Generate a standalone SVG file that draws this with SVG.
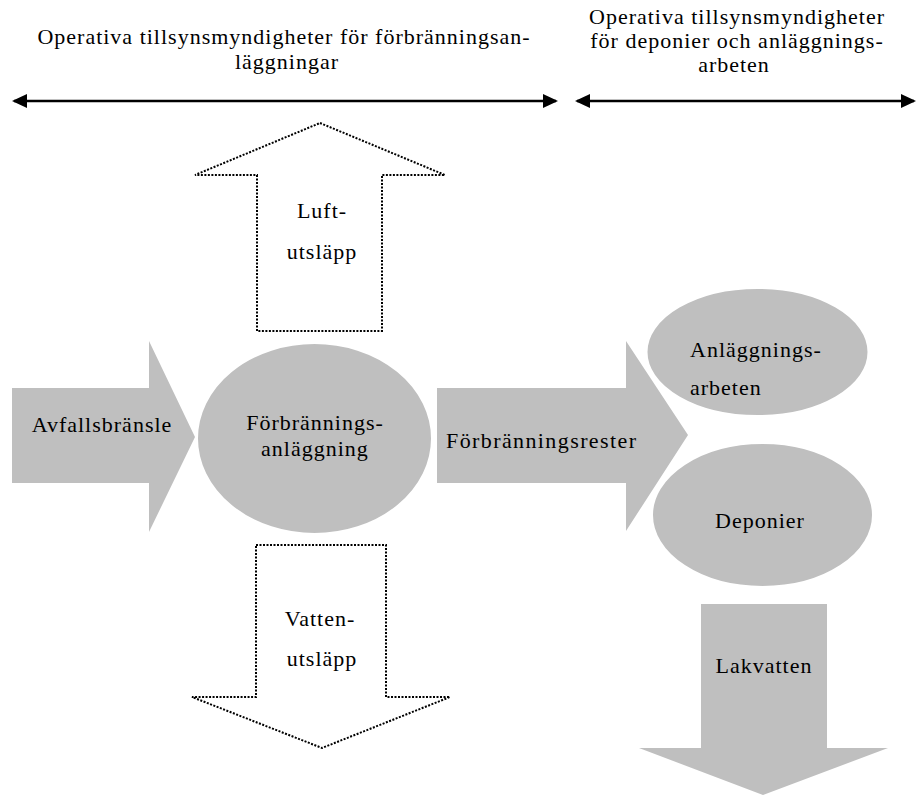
<svg xmlns="http://www.w3.org/2000/svg" width="920" height="797" viewBox="0 0 920 797">
<defs>
<style>
.t{font-family:"Liberation Serif","Times New Roman",serif;font-size:22px;letter-spacing:1px;fill:#000}
.m{text-anchor:middle}
.g{fill:#bfbfbf}
.e{fill:#bfbfbf;stroke:#fff;stroke-width:2}
.d{fill:#fff;stroke:#000;stroke-width:2;stroke-dasharray:2 1.5}
.c{stroke:#000;stroke-width:2.5;fill:none}
</style>
<marker id="ah" viewBox="0 0 15 14" refX="13" refY="7" markerWidth="15" markerHeight="14" markerUnits="userSpaceOnUse" orient="auto-start-reverse">
<path d="M0,0 L15,7 L0,14 z" fill="#000"/>
</marker>
</defs>
<rect width="920" height="797" fill="#fff"/>
<g id="title-left">
<text class="t m" x="284" y="44">Operativa tillsynsmyndigheter för förbränningsan-</text>
<text class="t m" x="287" y="69">läggningar</text>
</g>
<g id="title-right">
<text class="t m" x="737" y="24">Operativa tillsynsmyndigheter</text>
<text class="t m" x="737" y="48">för deponier och anläggnings-</text>
<text class="t m" x="734" y="72">arbeten</text>
</g>
<g id="connectors">
<line class="c" x1="14" y1="101" x2="556" y2="101" marker-start="url(#ah)" marker-end="url(#ah)"/>
<line class="c" x1="577" y1="101" x2="914" y2="101" marker-start="url(#ah)" marker-end="url(#ah)"/>
</g>
<g id="luftutslapp">
<polygon class="d" points="320,123 445,175 382,175 382,331 257,331 257,175 195,175"/>
<text class="t m" x="322" y="218">Luft-</text>
<text class="t m" x="322" y="259">utsläpp</text>
</g>
<g id="vattenutslapp">
<polygon class="d" points="256,545 386,545 386,697 450,697 322,748 192,697 256,697"/>
<text class="t m" x="320" y="626">Vatten-</text>
<text class="t m" x="322" y="666">utsläpp</text>
</g>
<g id="avfallsbransle">
<polygon class="g" points="12,388 149,388 149,341 195,437 149,532 149,483 12,483"/>
<text class="t m" x="102" y="432">Avfallsbränsle</text>
</g>
<g id="forbranningsrester">
<polygon class="g" points="437,388 626,388 626,341 688,435 626,531 626,483 437,483"/>
<text class="t" x="446" y="448" style="letter-spacing:1.4px">Förbränningsrester</text>
</g>
<g id="forbranningsanlaggning">
<ellipse class="e" cx="314.5" cy="438.5" rx="117.5" ry="95.5"/>
<text class="t m" x="315" y="430">Förbrännings-</text>
<text class="t m" x="315" y="456">anläggning</text>
</g>
<g id="anlaggningsarbeten">
<ellipse class="e" cx="757.5" cy="352" rx="111" ry="64"/>
<text class="t" x="690" y="357">Anläggnings-</text>
<text class="t" x="690" y="395">arbeten</text>
</g>
<g id="deponier">
<ellipse class="e" cx="762.5" cy="515" rx="110.5" ry="72"/>
<text class="t m" x="760" y="528">Deponier</text>
</g>
<g id="lakvatten">
<polygon class="g" points="701,604 827,604 827,748 888,748 763,795 639,748 701,748"/>
<text class="t m" x="764" y="673">Lakvatten</text>
</g>
</svg>
